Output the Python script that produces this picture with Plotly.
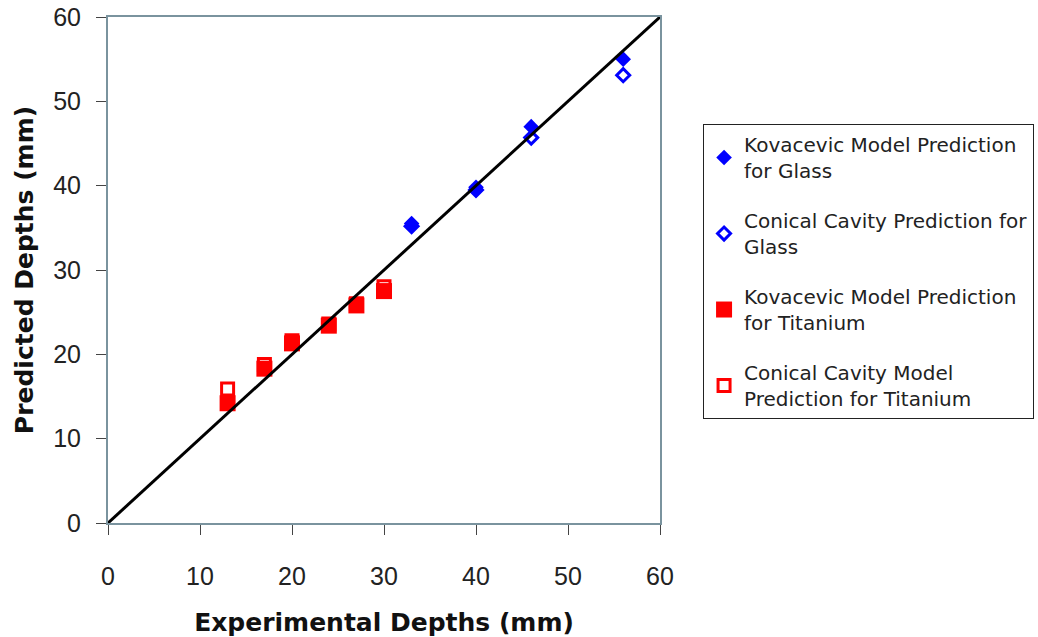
import plotly.graph_objects as go

# Data
kov_glass_x = [33, 40, 46, 56]
kov_glass_y = [35.5, 39.8, 47.0, 55.0]
con_glass_x = [33, 40, 46, 56]
con_glass_y = [35.2, 39.5, 45.7, 53.1]
kov_ti_x = [13, 17, 20, 24, 27, 30]
kov_ti_y = [14.2, 18.3, 21.3, 23.4, 25.8, 27.5]
con_ti_x = [13, 17, 20, 24, 27, 30]
con_ti_y = [15.9, 18.8, 21.6, 23.6, 26.0, 28.0]
line_x = [0, 60]
line_y = [0, 60]
tick_vals = [0, 10, 20, 30, 40, 50, 60]

BLUE = "#0000ff"
RED = "#ff0000"
AXIS = "#7a939e"
TICKFONT = "Liberation Sans, Arial, sans-serif"
TEXTFONT = "DejaVu Sans, sans-serif"

fig = go.Figure()
fig.add_trace(go.Scatter(
    x=kov_glass_x, y=kov_glass_y, mode="markers", legendgroup="g1",
    name="Kovacevic Model Prediction<br>for Glass",
    marker=dict(symbol="diamond", size=12, color=BLUE)))
fig.add_trace(go.Scatter(
    x=con_glass_x, y=con_glass_y, mode="markers", legendgroup="g2",
    name="Conical Cavity Prediction for<br>Glass",
    marker=dict(symbol="diamond-open", size=10, color=BLUE, line=dict(width=3, color=BLUE))))
fig.add_trace(go.Scatter(
    x=kov_ti_x, y=kov_ti_y, mode="markers", legendgroup="g3",
    name="Kovacevic Model Prediction<br>for Titanium",
    marker=dict(symbol="square", size=16, color=RED)))
fig.add_trace(go.Scatter(
    x=con_ti_x, y=con_ti_y, mode="markers", legendgroup="g4",
    name="Conical Cavity Model<br>Prediction for Titanium",
    marker=dict(symbol="square-open", size=12, color=RED, line=dict(width=3, color=RED))))
fig.add_trace(go.Scatter(
    x=line_x, y=line_y, mode="lines", showlegend=False,
    line=dict(color="black", width=3)))

axis_common = dict(
    range=[0, 60], tickvals=tick_vals, showgrid=False, zeroline=False,
    showline=True, linecolor=AXIS, linewidth=2, mirror=True,
    ticks="outside", ticklen=10, tickcolor="#444444", tickwidth=1,
    tickfont=dict(family=TICKFONT, size=25, color="#222222"),
)
fig.update_xaxes(**axis_common, ticklabelstandoff=20,
                 title=dict(text="<b>Experimental Depths (mm)</b>", standoff=26,
                            font=dict(family=TEXTFONT, size=25, color="#111111")))
fig.update_yaxes(**axis_common, ticklabelstandoff=10,
                 title=dict(text="<b>Predicted Depths (mm)</b>", standoff=12,
                            font=dict(family=TEXTFONT, size=25, color="#111111")))

fig.update_layout(
    width=1038, height=637,
    margin=dict(l=108, r=378, t=17, b=114, autoexpand=False),
    plot_bgcolor="white", paper_bgcolor="white",
    font=dict(family=TEXTFONT),
    legend=dict(
        x=1.078, y=0.7885, xanchor="left", yanchor="top",
        bordercolor="#222222", borderwidth=1, bgcolor="white",
        font=dict(family=TEXTFONT, size=20, color="#222222"),
        tracegroupgap=21, itemsizing="trace",
    ),
)

fig.write_html("out.html")
